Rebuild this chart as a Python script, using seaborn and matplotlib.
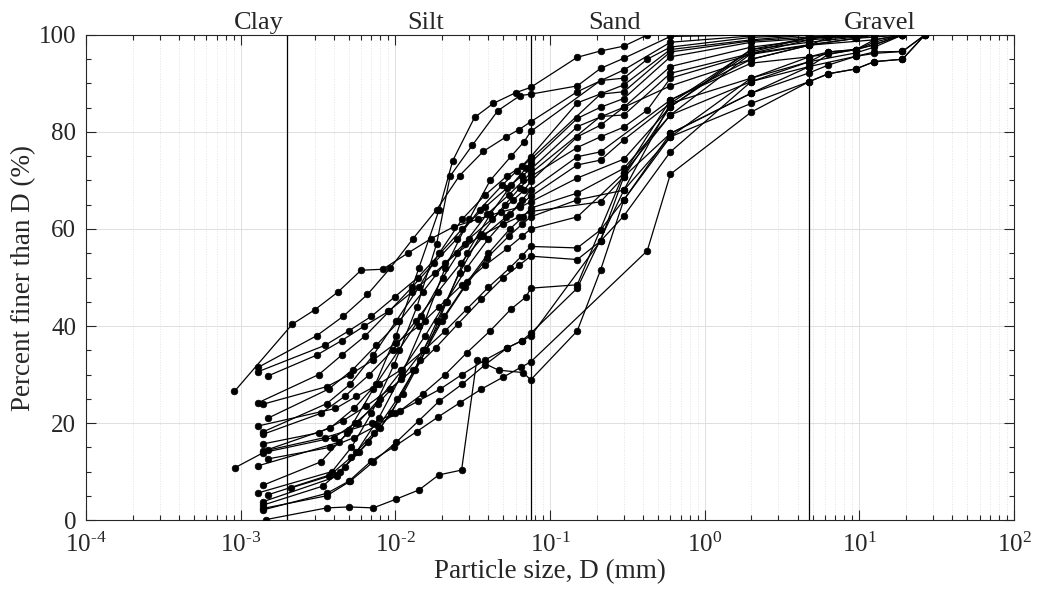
import numpy as np
import pandas as pd
import seaborn as sns
import matplotlib.pyplot as plt
from matplotlib.ticker import LogLocator, FixedLocator, FuncFormatter, MultipleLocator, NullFormatter

# Particle size distribution curves (size in mm, percent finer)
d01 = [0.0014, 0.0033, 0.0049, 0.0072, 0.0101, 0.0142, 0.0192, 0.0235, 0.0325, 0.043, 0.06, 0.075, 0.15, 0.212, 0.3, 0.425]
p01 = [7.2, 12, 18, 27, 38, 52, 64, 74.1, 83, 85.9, 88.1, 89.2, 95.4, 96.7, 97.7, 100]
d02 = [0.0013, 0.0039, 0.0052, 0.007, 0.0098, 0.0138, 0.0185, 0.0226, 0.0315, 0.046, 0.064, 0.075, 0.15, 0.212, 0.3, 0.6, 2]
p02 = [5.6, 10, 15, 22, 32, 44, 57, 70.9, 77.3, 84.4, 87.5, 87.8, 89.5, 93.1, 95.2, 99.7, 100]
d03 = [0.0013, 0.0031, 0.0046, 0.0066, 0.0093, 0.013, 0.0185, 0.026, 0.037, 0.052, 0.063, 0.075, 0.15, 0.3, 0.6, 2, 4.75]
p03 = [31.5, 38, 42, 46.5, 52, 58, 64, 71, 76, 79, 80.5, 82.1, 88.3, 92.8, 98.5, 99.8, 100]
d04 = [0.0014, 0.0042, 0.0056, 0.0078, 0.011, 0.0155, 0.021, 0.03, 0.041, 0.056, 0.068, 0.075, 0.212, 0.3, 0.425, 0.6, 2, 4.75]
p04 = [3.8, 9, 14, 21, 30, 41, 52, 62, 70, 75, 78, 80.1, 90.6, 91.1, 95, 97.5, 99.5, 100]
d05 = [0.0014, 0.0036, 0.0051, 0.0072, 0.0101, 0.0142, 0.0192, 0.027, 0.038, 0.053, 0.066, 0.075, 0.15, 0.3, 0.6, 2, 4.75]
p05 = [18.2, 24, 28, 34, 41, 48, 55, 62, 67, 71, 73, 74.9, 86, 89.7, 97, 99, 100]
d06 = [0.0013, 0.0032, 0.0045, 0.0064, 0.0091, 0.0128, 0.0178, 0.025, 0.035, 0.049, 0.061, 0.075, 0.212, 0.3, 0.6, 2, 4.75, 9.5]
p06 = [24.2, 30, 34, 38, 43, 48, 53, 58, 64, 69, 72, 74.4, 87.8, 88.3, 96.5, 98.8, 99.6, 100]
d07 = [0.0015, 0.0044, 0.0058, 0.008, 0.0112, 0.0158, 0.0215, 0.029, 0.041, 0.056, 0.07, 0.075, 0.15, 0.212, 0.3, 0.6, 2, 4.75, 12.5]
p07 = [5.2, 10, 14, 19, 26, 35, 45, 55, 63, 69, 72.5, 73.7, 82.8, 85.1, 86.9, 95.5, 98.5, 99.3, 100]
d08 = [0.0013, 0.0035, 0.005, 0.007, 0.0099, 0.014, 0.0195, 0.027, 0.038, 0.053, 0.066, 0.075, 0.15, 0.3, 0.6, 2, 4.75, 6.3]
p08 = [30.6, 36, 39, 42, 46, 50, 55, 60, 64.5, 68.5, 71, 72.3, 81.1, 85.1, 93.5, 97.5, 99, 100]
d09 = [0.0014, 0.0038, 0.0054, 0.0075, 0.0105, 0.0147, 0.0203, 0.028, 0.039, 0.054, 0.067, 0.075, 0.212, 0.3, 0.6, 2, 4.75, 9.5, 19]
p09 = [14.2, 19, 23, 28, 35, 42, 50, 57, 63, 67, 70, 71.5, 83.2, 83.5, 92.1, 96.2, 98, 99.3, 100]
d10 = [0.0014, 0.0034, 0.0047, 0.0067, 0.0094, 0.0133, 0.0186, 0.026, 0.036, 0.051, 0.064, 0.075, 0.15, 0.212, 0.3, 0.425, 0.6, 2, 4.75, 12.5, 19]
p10 = [3.1, 7, 11, 16, 22, 31, 41, 51, 59, 65, 68.5, 70.8, 76.8, 79, 81, 84.5, 91.1, 96, 97.9, 99, 100]
d11 = [0.0015, 0.0037, 0.0053, 0.0075, 0.0106, 0.015, 0.021, 0.03, 0.042, 0.058, 0.068, 0.075, 0.15, 0.212, 0.3, 0.6, 2, 4.75, 6.3, 12.5]
p11 = [21, 27, 31, 36, 41, 47, 53, 58, 62, 66, 68, 69.8, 79, 81.4, 85.1, 89.5, 95, 97.9, 99.5, 100]
d12 = [0.0013, 0.0043, 0.0057, 0.0079, 0.0111, 0.0156, 0.0212, 0.029, 0.04, 0.055, 0.066, 0.075, 0.15, 0.212, 0.6, 2, 4.75, 6.3, 9.5, 12.5, 19]
p12 = [11.2, 16, 20, 25, 31, 38, 45, 52, 58, 63, 66, 68, 74.9, 75.9, 86.6, 94.2, 95.5, 96.5, 97, 98.5, 100]
d13 = [0.0014, 0.0033, 0.0047, 0.0068, 0.0096, 0.0135, 0.0188, 0.0265, 0.037, 0.052, 0.064, 0.075, 0.15, 0.212, 0.3, 0.6, 2, 4.75, 9.5, 12.5, 19]
p13 = [17.7, 22, 25.5, 30, 35, 41, 47, 53, 58.5, 62.5, 65, 66.7, 73.2, 74.2, 78.4, 85.9, 91.1, 94.5, 96.3, 97.5, 100]
d14 = [0.00091, 0.00216, 0.003, 0.00425, 0.006, 0.0083, 0.012, 0.017, 0.024, 0.034, 0.048, 0.064, 0.075, 0.15, 0.3, 0.6, 2, 4.75, 12.5]
p14 = [26.5, 40.4, 43.3, 47, 51.5, 51.7, 55, 58, 60.5, 62, 63.5, 64.5, 65.6, 70.5, 74.4, 85.2, 97, 98.5, 100]
d15 = [0.0014, 0.004, 0.0055, 0.0077, 0.0108, 0.0151, 0.0207, 0.029, 0.04, 0.055, 0.067, 0.075, 0.15, 0.3, 0.6, 2, 4.75, 6.3, 9.5, 12.5, 19]
p15 = [13.9, 17, 20, 24, 29, 35, 42, 49, 55, 60, 62.5, 64.3, 67.4, 72.5, 83.5, 90.4, 93.5, 96, 97, 98, 100]
d16 = [0.0015, 0.0031, 0.0045, 0.0063, 0.009, 0.0128, 0.018, 0.025, 0.035, 0.05, 0.063, 0.075, 0.212, 0.3, 0.6, 2, 4.75, 6.3, 9.5, 12.5, 19, 26.5]
p16 = [29.7, 34, 37, 40, 43, 47, 51, 55, 58.5, 61, 62.5, 63.6, 65.6, 70.8, 79.7, 88, 92.2, 93.8, 95.6, 96.2, 96.6, 100]
d17 = [0.0021, 0.0037, 0.0052, 0.0073, 0.0103, 0.0145, 0.02, 0.028, 0.039, 0.054, 0.066, 0.075, 0.15, 0.3, 0.6, 2, 4.75, 6.3, 9.5, 12.5, 19, 26.5]
p17 = [6.6, 9, 13, 18, 25, 33, 41, 48, 54, 58.5, 61, 62.5, 66, 68, 79, 85.9, 90.4, 92, 93, 94.5, 95, 100]
d18 = [0.0014, 0.0036, 0.0051, 0.0072, 0.0101, 0.0142, 0.0192, 0.027, 0.038, 0.053, 0.066, 0.075, 0.15, 0.3, 0.6, 2, 4.75, 12.5]
p18 = [23.9, 27.5, 30, 33, 36.5, 40, 44, 48.5, 52.5, 56, 58.5, 60, 62.5, 71.5, 83.5, 96.2, 99, 100]
d19 = [0.0013, 0.0041, 0.0056, 0.0078, 0.0109, 0.0153, 0.021, 0.029, 0.04, 0.055, 0.066, 0.075, 0.15, 0.212, 0.3, 0.6, 2, 4.75, 9.5, 12.5, 19]
p19 = [19.4, 23, 25.5, 28, 31, 35, 39, 43.5, 48, 52, 54.5, 56.4, 56.1, 59.8, 66, 79, 91.1, 95.5, 97, 99, 100]
d20 = [0.0014, 0.0032, 0.0046, 0.0065, 0.0092, 0.013, 0.0182, 0.0255, 0.036, 0.05, 0.063, 0.075, 0.15, 0.212, 0.3, 0.6, 2, 4.75, 6.3, 9.5, 12.5, 19]
p20 = [15.7, 18, 20.5, 23.5, 27, 31, 35.5, 40.5, 45.5, 50, 52.5, 54.4, 53.7, 57.5, 62.7, 75.9, 90.4, 94.5, 96.5, 97, 98, 100]
d21 = [0.0015, 0.0038, 0.0054, 0.0076, 0.0107, 0.015, 0.021, 0.029, 0.041, 0.056, 0.07, 0.075, 0.15, 0.3, 0.6, 2, 4.75, 9.5, 12.5]
p21 = [12.6, 15, 17, 19.5, 22.5, 26, 30, 34.5, 39, 43.5, 46, 47.8, 48.5, 71.5, 86.6, 95, 97.9, 99.3, 100]
d22 = [0.0014, 0.0036, 0.0051, 0.0072, 0.0101, 0.0142, 0.0192, 0.027, 0.038, 0.053, 0.066, 0.075, 0.15, 0.3, 0.6, 2, 4.75, 12.5]
p22 = [2.4, 5, 8, 12, 16, 20.5, 24.5, 28, 32, 35.5, 37, 38.5, 47.8, 68, 85.9, 97, 99.5, 100]
d23 = [0.00092, 0.0015, 0.0035, 0.005, 0.0071, 0.01, 0.014, 0.0195, 0.027, 0.038, 0.053, 0.066, 0.075, 0.212, 0.3, 0.6, 2, 4.75, 9.5]
p23 = [10.8, 14.4, 17, 18.5, 20, 22, 24.5, 27, 30, 33, 35.5, 37, 37.9, 57.5, 70.8, 85.2, 96.5, 99.5, 100]
d24 = [0.0014, 0.0036, 0.005, 0.007, 0.0098, 0.0137, 0.0188, 0.0262, 0.036, 0.05, 0.065, 0.075, 0.425, 0.6, 2, 4.75, 6.3, 9.5, 12.5, 19, 26.5]
p24 = [2.1, 5.5, 8, 12.2, 15.1, 18.2, 21.2, 24.2, 27, 29.5, 31.5, 32.6, 55.5, 71.3, 84.1, 90.4, 92, 93, 94.5, 95, 100]
d25 = [0.00146, 0.0036, 0.005, 0.0072, 0.0101, 0.0142, 0.0191, 0.0268, 0.0336, 0.0465, 0.067, 0.075, 0.15, 0.212, 0.3, 0.6, 2, 4.75, 9.5, 12.5, 19, 26.5]
p25 = [0.1, 2.5, 2.7, 2.5, 4.3, 6.2, 9.3, 10.3, 33, 30.9, 30.4, 28.9, 39, 51.5, 66, 79.7, 88, 93.5, 95.6, 96.5, 96.6, 100]

boundaries_mm = [0.002, 0.075, 4.75]
zone_labels = ["Clay", "Silt", "Sand", "Gravel"]
zone_label_x = [0.0013, 0.0156, 0.26, 13.5]
decade_ticks = [1e-4, 1e-3, 1e-2, 1e-1, 1e0, 1e1, 1e2]

samples = [(d01, p01), (d02, p02), (d03, p03), (d04, p04), (d05, p05),
           (d06, p06), (d07, p07), (d08, p08), (d09, p09), (d10, p10),
           (d11, p11), (d12, p12), (d13, p13), (d14, p14), (d15, p15),
           (d16, p16), (d17, p17), (d18, p18), (d19, p19), (d20, p20),
           (d21, p21), (d22, p22), (d23, p23), (d24, p24), (d25, p25)]

rows = []
for k, (d, p) in enumerate(samples):
    for di, pi in zip(d, p):
        rows.append({"sample": k, "size": di, "finer": pi})
df = pd.DataFrame(rows)

sns.set_style("ticks")
plt.rcParams['font.family'] = ['Liberation Serif', 'DejaVu Serif']
plt.rcParams['mathtext.fontset'] = 'custom'
plt.rcParams['mathtext.rm'] = 'Liberation Serif'
plt.rcParams['mathtext.it'] = 'Liberation Serif:italic'
plt.rcParams['mathtext.bf'] = 'Liberation Serif:bold'


def decade_label(v, pos):
    # 10^-4 style label with a short hyphen like the original
    e = int(round(np.log10(v)))
    sign = "\u2010" if e < 0 else ""
    return r"$10^{%s%d}$" % (sign, abs(e))


fig = plt.figure(figsize=(10.38, 6.03), dpi=100)
ax = fig.add_axes([0.0829, 0.1376, 0.894, 0.8044])
ax.set_xscale('log')

ax.grid(which='major', color='#dedede', lw=0.7)
ax.grid(which='minor', axis='x', color='#e4e4e4', ls=':', lw=0.7)
ax.set_axisbelow(True)

for b in boundaries_mm:
    ax.axvline(b, color='black', lw=0.9, zorder=1)

sns.lineplot(data=df, x="size", y="finer", units="sample", estimator=None,
             sort=False, color="black", lw=0.9, marker="o", markersize=4.8,
             markeredgecolor="black", markeredgewidth=0.5, ax=ax, zorder=3)

ax.set_xlim(1e-4, 1e2)
ax.set_ylim(0, 100)
ax.xaxis.set_major_locator(FixedLocator(decade_ticks))
ax.xaxis.set_major_formatter(FuncFormatter(decade_label))
ax.xaxis.set_minor_locator(LogLocator(base=10, subs=range(2, 10), numticks=100))
ax.xaxis.set_minor_formatter(NullFormatter())
ax.yaxis.set_major_locator(MultipleLocator(20))
ax.yaxis.set_minor_locator(MultipleLocator(5))

ax.tick_params(which='both', direction='in', top=True, right=True, color='#262626', width=0.8)
ax.tick_params(which='major', length=7, labelsize=18)
ax.tick_params(axis='x', which='major', pad=9)
ax.tick_params(axis='y', which='major', pad=7)
ax.tick_params(which='minor', length=3.5)
for s in ax.spines.values():
    s.set_color('#262626')
    s.set_linewidth(0.8)

for lbl, xl in zip(zone_labels, zone_label_x):
    ax.text(xl, 1.012, lbl, transform=ax.get_xaxis_transform(), ha='center',
            va='baseline', fontsize=19)

ax.set_xlabel("Particle size, D (mm)", fontsize=19.5, labelpad=2)
ax.set_ylabel("Percent finer than D (%)", fontsize=19.5, labelpad=2)

fig.savefig("out.png", dpi=100)
